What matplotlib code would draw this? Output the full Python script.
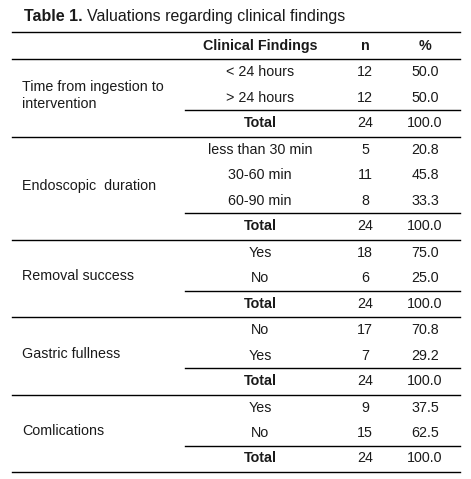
import matplotlib
matplotlib.use("Agg")
import matplotlib.pyplot as plt

plt.rcParams['font.family'] = ['Liberation Sans', 'DejaVu Sans']

groups = ["Time from ingestion to\nintervention", "Endoscopic  duration", "Removal success",
          "Gastric fullness", "Comlications"]
sub_labels = [["< 24 hours", "> 24 hours"],
              ["less than 30 min", "30-60 min", "60-90 min"],
              ["Yes", "No"], ["No", "Yes"], ["Yes", "No"]]
n_vals = [[12, 12], [5, 11, 8], [18, 6], [17, 7], [9, 15]]
pct_vals = [["50.0", "50.0"], ["20.8", "45.8", "33.3"], ["75.0", "25.0"],
            ["70.8", "29.2"], ["37.5", "62.5"]]
totals_n = [24, 24, 24, 24, 24]
totals_pct = ["100.0"] * 5

fig = plt.figure(figsize=(4.71, 4.79), dpi=100)
ax = fig.add_axes([0, 0, 1, 1])
ax.set_xlim(0, 471)
ax.set_ylim(479, 0)
ax.axis('off')

L, R, SPLIT = 12, 460, 185
xc, xn, xp = 260, 365, 425
fs = 10.3
rh = 25.5
col = '#1a1a1a'

t1 = ax.text(L + 12, 16, "Table 1.", fontsize=11.5, fontweight='bold', va='center', ha='left', color=col)
fig.canvas.draw()
bb = t1.get_window_extent()
ax.text(L + 12 + bb.width + 4, 16, "Valuations regarding clinical findings", fontsize=11.5,
        va='center', ha='left', color=col)

ax.plot([L, R], [32, 32], color='black', lw=1)
ax.text(xc, 45.5, "Clinical Findings", fontsize=fs, fontweight='bold', ha='center', va='center', color=col)
ax.text(xn, 45.5, "n", fontsize=fs, fontweight='bold', ha='center', va='center', color=col)
ax.text(xp, 45.5, "%", fontsize=fs, fontweight='bold', ha='center', va='center', color=col)
ax.plot([L, R], [59, 59], color='black', lw=1)

y = 59
for g, subs, ns, ps, tn, tp in zip(groups, sub_labels, n_vals, pct_vals, totals_n, totals_pct):
    top = y
    for s, nv, pv in zip(subs, ns, ps):
        cy = y + rh / 2 + 0.5
        ax.text(xc, cy, s, fontsize=fs, ha='center', va='center', color=col)
        ax.text(xn, cy, str(nv), fontsize=fs, ha='center', va='center', color=col)
        ax.text(xp, cy, pv, fontsize=fs, ha='center', va='center', color=col)
        y += rh
    ax.plot([SPLIT, R], [y, y], color='black', lw=1)
    cy = y + 13
    ax.text(xc, cy, "Total", fontsize=fs, fontweight='bold', ha='center', va='center', color=col)
    ax.text(xn, cy, str(tn), fontsize=fs, ha='center', va='center', color=col)
    ax.text(xp, cy, tp, fontsize=fs, ha='center', va='center', color=col)
    y += 26.5
    ax.plot([L, R], [y, y], color='black', lw=1)
    ax.text(L + 10, (top + y) / 2 - 2, g, fontsize=fs, ha='left', va='center',
            linespacing=1.3, color=col)

fig.savefig("out.png", dpi=100)
